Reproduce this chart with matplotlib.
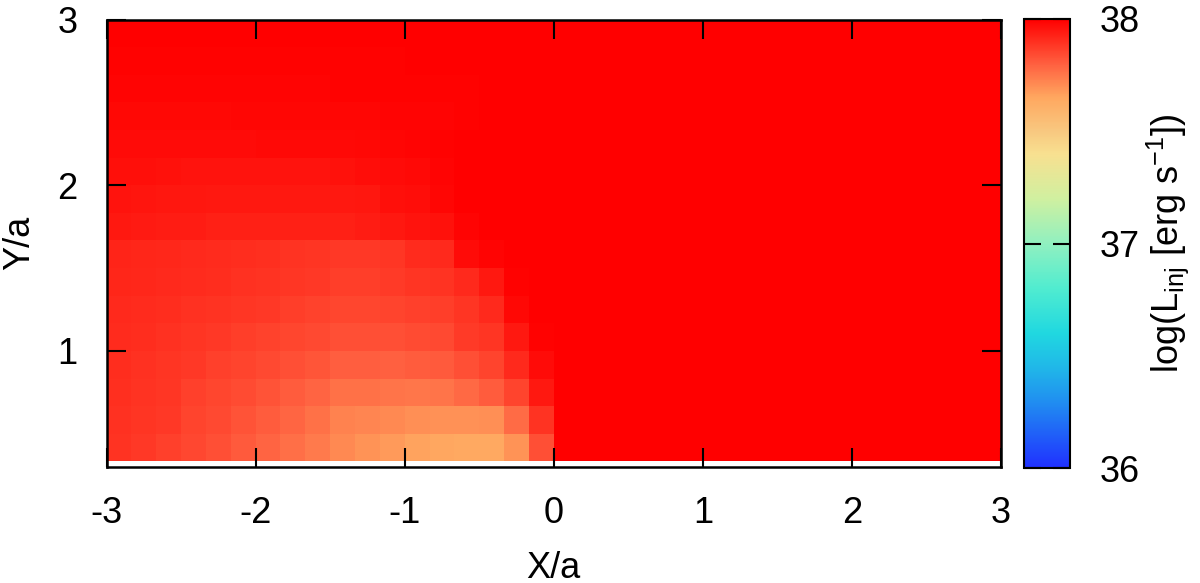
import numpy as np
import matplotlib
matplotlib.use("Agg")
import matplotlib.pyplot as plt
from matplotlib.colors import LinearSegmentedColormap

plt.rcParams['font.family'] = ['Liberation Sans', 'DejaVu Sans']
plt.rcParams['mathtext.fontset'] = 'custom'
plt.rcParams['mathtext.rm'] = 'Liberation Sans'
plt.rcParams['mathtext.it'] = 'Liberation Sans:italic'
plt.rcParams['mathtext.default'] = 'regular'

# ---- grid (cell edges) ----
x_edges = np.linspace(-3.0, 3.0, 37)          # 36 columns of width 1/6
y_edges = np.linspace(1.0 / 3.0, 3.0, 17)     # 16 rows of height 1/6

# ---- log(L_inj) values, rows from bottom (Y/a=1/3) to top (Y/a=3) ----
# columns for X/a in [-3, 0)
L_inj_x_neg = [
    [37.892, 37.879, 37.867, 37.850, 37.833, 37.812, 37.791, 37.769, 37.743, 37.712, 37.694, 37.676, 37.659, 37.650, 37.641, 37.641, 37.694, 37.833],
    [37.896, 37.888, 37.879, 37.858, 37.846, 37.825, 37.808, 37.787, 37.765, 37.729, 37.721, 37.712, 37.703, 37.699, 37.699, 37.703, 37.774, 37.892],
    [37.900, 37.892, 37.883, 37.867, 37.854, 37.842, 37.825, 37.808, 37.791, 37.765, 37.765, 37.756, 37.751, 37.756, 37.778, 37.808, 37.858, 37.946],
    [37.904, 37.896, 37.888, 37.879, 37.867, 37.858, 37.846, 37.833, 37.821, 37.804, 37.804, 37.800, 37.808, 37.812, 37.833, 37.858, 37.912, 37.975],
    [37.908, 37.904, 37.896, 37.888, 37.879, 37.871, 37.862, 37.854, 37.846, 37.833, 37.833, 37.833, 37.842, 37.846, 37.875, 37.888, 37.946, 37.996],
    [37.912, 37.908, 37.904, 37.896, 37.892, 37.883, 37.879, 37.871, 37.862, 37.854, 37.854, 37.858, 37.867, 37.871, 37.888, 37.912, 37.983, 38.000],
    [37.921, 37.917, 37.912, 37.908, 37.904, 37.896, 37.892, 37.883, 37.879, 37.871, 37.871, 37.875, 37.888, 37.892, 37.912, 37.946, 37.996, 38.000],
    [37.925, 37.921, 37.917, 37.912, 37.908, 37.904, 37.900, 37.892, 37.888, 37.879, 37.879, 37.883, 37.908, 37.912, 37.975, 37.992, 38.000, 38.000],
    [37.946, 37.942, 37.938, 37.938, 37.933, 37.933, 37.933, 37.933, 37.933, 37.933, 37.938, 37.946, 37.958, 37.962, 37.992, 38.000, 38.000, 38.000],
    [37.958, 37.954, 37.950, 37.950, 37.946, 37.946, 37.946, 37.946, 37.946, 37.946, 37.950, 37.967, 37.971, 37.988, 38.000, 38.000, 38.000, 38.000],
    [37.967, 37.967, 37.962, 37.958, 37.958, 37.958, 37.958, 37.958, 37.958, 37.962, 37.971, 37.975, 37.979, 37.992, 38.000, 38.000, 38.000, 38.000],
    [37.975, 37.975, 37.975, 37.975, 37.975, 37.975, 37.979, 37.979, 37.979, 37.979, 37.983, 37.988, 37.992, 37.996, 38.000, 38.000, 38.000, 38.000],
    [37.983, 37.983, 37.983, 37.983, 37.983, 37.988, 37.988, 37.988, 37.988, 37.988, 37.988, 37.992, 37.992, 37.992, 37.996, 38.000, 38.000, 38.000],
    [37.992, 37.992, 37.992, 37.992, 37.992, 37.992, 37.992, 37.992, 37.992, 37.996, 37.996, 37.996, 37.996, 37.996, 37.996, 38.000, 38.000, 38.000],
    [37.996, 37.996, 37.996, 37.996, 37.996, 37.996, 37.996, 37.996, 37.996, 37.996, 37.996, 37.996, 38.000, 38.000, 38.000, 38.000, 38.000, 38.000],
    [38.000, 38.000, 38.000, 38.000, 38.000, 38.000, 38.000, 38.000, 38.000, 38.000, 38.000, 38.000, 38.000, 38.000, 38.000, 38.000, 38.000, 38.000],
]
# columns for X/a in [0, 3)
L_inj_x_pos = [
    [38.0, 38.0, 38.0, 38.0, 38.0, 38.0, 38.0, 38.0, 38.0, 38.0, 38.0, 38.0, 38.0, 38.0, 38.0, 38.0, 38.0, 38.0],
    [38.0, 38.0, 38.0, 38.0, 38.0, 38.0, 38.0, 38.0, 38.0, 38.0, 38.0, 38.0, 38.0, 38.0, 38.0, 38.0, 38.0, 38.0],
    [38.0, 38.0, 38.0, 38.0, 38.0, 38.0, 38.0, 38.0, 38.0, 38.0, 38.0, 38.0, 38.0, 38.0, 38.0, 38.0, 38.0, 38.0],
    [38.0, 38.0, 38.0, 38.0, 38.0, 38.0, 38.0, 38.0, 38.0, 38.0, 38.0, 38.0, 38.0, 38.0, 38.0, 38.0, 38.0, 38.0],
    [38.0, 38.0, 38.0, 38.0, 38.0, 38.0, 38.0, 38.0, 38.0, 38.0, 38.0, 38.0, 38.0, 38.0, 38.0, 38.0, 38.0, 38.0],
    [38.0, 38.0, 38.0, 38.0, 38.0, 38.0, 38.0, 38.0, 38.0, 38.0, 38.0, 38.0, 38.0, 38.0, 38.0, 38.0, 38.0, 38.0],
    [38.0, 38.0, 38.0, 38.0, 38.0, 38.0, 38.0, 38.0, 38.0, 38.0, 38.0, 38.0, 38.0, 38.0, 38.0, 38.0, 38.0, 38.0],
    [38.0, 38.0, 38.0, 38.0, 38.0, 38.0, 38.0, 38.0, 38.0, 38.0, 38.0, 38.0, 38.0, 38.0, 38.0, 38.0, 38.0, 38.0],
    [38.0, 38.0, 38.0, 38.0, 38.0, 38.0, 38.0, 38.0, 38.0, 38.0, 38.0, 38.0, 38.0, 38.0, 38.0, 38.0, 38.0, 38.0],
    [38.0, 38.0, 38.0, 38.0, 38.0, 38.0, 38.0, 38.0, 38.0, 38.0, 38.0, 38.0, 38.0, 38.0, 38.0, 38.0, 38.0, 38.0],
    [38.0, 38.0, 38.0, 38.0, 38.0, 38.0, 38.0, 38.0, 38.0, 38.0, 38.0, 38.0, 38.0, 38.0, 38.0, 38.0, 38.0, 38.0],
    [38.0, 38.0, 38.0, 38.0, 38.0, 38.0, 38.0, 38.0, 38.0, 38.0, 38.0, 38.0, 38.0, 38.0, 38.0, 38.0, 38.0, 38.0],
    [38.0, 38.0, 38.0, 38.0, 38.0, 38.0, 38.0, 38.0, 38.0, 38.0, 38.0, 38.0, 38.0, 38.0, 38.0, 38.0, 38.0, 38.0],
    [38.0, 38.0, 38.0, 38.0, 38.0, 38.0, 38.0, 38.0, 38.0, 38.0, 38.0, 38.0, 38.0, 38.0, 38.0, 38.0, 38.0, 38.0],
    [38.0, 38.0, 38.0, 38.0, 38.0, 38.0, 38.0, 38.0, 38.0, 38.0, 38.0, 38.0, 38.0, 38.0, 38.0, 38.0, 38.0, 38.0],
    [38.0, 38.0, 38.0, 38.0, 38.0, 38.0, 38.0, 38.0, 38.0, 38.0, 38.0, 38.0, 38.0, 38.0, 38.0, 38.0, 38.0, 38.0],
]

x_ticks = [-3, -2, -1, 0, 1, 2, 3]
y_ticks = [1, 2, 3]
cb_ticks = [36, 37, 38]
cb_label = r'log(L$_{\mathrm{inj}}$ [erg s$^{-1}$])'

# ---- colour palette sampled from the colour box ----
pal_vals = [36.0, 36.15, 36.3, 36.45, 36.6, 36.8, 37.0, 37.2, 37.4, 37.5, 37.65, 37.8, 38.0]
pal_cols = ['#2030ff', '#2060f8', '#2090f0', '#20b8e8', '#20d8e0', '#50ecd0', '#90f0c0',
            '#d0f0a0', '#f8e090', '#f8c880', '#ffa860', '#ff6040', '#ff0000']
vmin, vmax = 36.0, 38.0
cmap = LinearSegmentedColormap.from_list(
    'lumi', [((v - vmin) / (vmax - vmin), c) for v, c in zip(pal_vals, pal_cols)], N=512)

Z = np.hstack([np.array(L_inj_x_neg), np.array(L_inj_x_pos)])

FS = 26
fig = plt.figure(figsize=(12, 5.83), dpi=100)
W, H = 1200.0, 583.0
ax = fig.add_axes([106.5 / W, 1 - 467 / H, (1001 - 106.5) / W, (467 - 19.5) / H])
cax = fig.add_axes([1024 / W, 1 - 468 / H, 46 / W, (468 - 19) / H])

mesh = ax.pcolormesh(x_edges, y_edges, Z, cmap=cmap, vmin=vmin, vmax=vmax,
                     shading='flat', linewidth=0, antialiased=False)
ax.set_xlim(-3, 3)
ax.set_ylim(0.3, 3)
ax.set_xticks(x_ticks)
ax.set_xticklabels([str(t) for t in x_ticks])
ax.set_yticks(y_ticks)
ax.set_yticklabels([str(t) for t in y_ticks])
ax.tick_params(direction='in', top=True, right=True, length=14, width=1.5,
               labelsize=FS)
ax.tick_params(axis='x', pad=21)
ax.tick_params(axis='y', pad=21)
for s in ax.spines.values():
    s.set_linewidth(1.8)
ax.set_xlabel('X/a', fontsize=FS, labelpad=14)
ax.set_ylabel('Y/a', fontsize=FS, labelpad=14)

cb = fig.colorbar(mesh, cax=cax)
cb.set_ticks(cb_ticks)
cb.set_ticklabels([str(t) for t in cb_ticks])
cax.tick_params(direction='in', left=True, right=True, length=12, width=1.5,
                labelsize=FS, pad=21)
cb.outline.set_linewidth(1.5)
cax.set_ylabel(cb_label, fontsize=FS, labelpad=4)

fig.savefig('out.png', dpi=100)
